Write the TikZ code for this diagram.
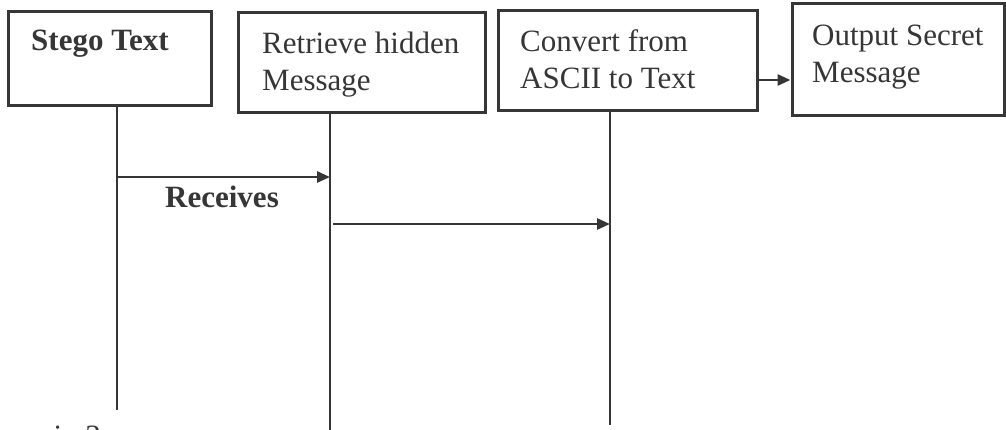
\documentclass[tikz,border=0pt]{standalone}
\usepackage{fontspec}
\setmainfont{Liberation Serif}
\usetikzlibrary{arrows.meta}
\definecolor{ink}{HTML}{363636}
\begin{document}
\begin{tikzpicture}[x=1pt,y=-1pt,
  box/.style={draw=ink, line width=3pt, rectangle, inner sep=0pt, fill=white},
  lbl/.style={anchor=base west, inner sep=0pt, text=ink, font=\fontsize{31}{37}\selectfont, align=left},
  life/.style={draw=ink, line width=2.8pt},
  msg/.style={draw=ink, line width=2.8pt, -{Triangle[length=13pt,width=11pt]}}]
\useasboundingbox (0,0) rectangle (1006,429);
\clip (0,0) rectangle (1006,429);
\fill[white] (0,0) rectangle (1006,429);

% participants
\node[box, minimum width=203pt, minimum height=94pt]  (b1) at (109.5,58) {};
\node[box, minimum width=247pt, minimum height=100pt] (b2) at (361.5,62) {};
\node[box, minimum width=259pt, minimum height=100pt] (b3) at (627.5,60) {};
\node[box, minimum width=212pt, minimum height=112pt] (b4) at (898,59) {};

% labels are placed by the baseline of their last line
\node[lbl, font=\fontsize{31}{37}\selectfont\bfseries] (t1) at (31,50) {Stego Text};
\node[lbl] (t2) at (262,90) {Retrieve hidden\\Message};
\node[lbl] (t3) at (520,88) {Convert from\\ASCII to Text};
\node[lbl] (t4) at (812,82) {Output Secret\\Message};

% lifeline ends
\coordinate (l1) at (117,410);
\coordinate (l2) at (330,432);
\coordinate (l3) at (610,425);
\draw[life] (b1.south -| l1) -- (l1);
\draw[life] (b2.south -| l2) -- (l2);
\draw[life] (b3.south -| l3) -- (l3);

% messages
\coordinate (m1) at (0,177);
\coordinate (m2) at (0,224);
\coordinate (m3) at (0,80);
\draw[msg] (l1 |- m1) -- (l2 |- m1);
\node[lbl, font=\fontsize{31}{37}\selectfont\bfseries] (rcv) at (165,207) {Receives};
\draw[msg] ([xshift=3pt]l2 |- m2) -- (l3 |- m2);
\draw[msg] (b3.east |- m3) -- (b4.west |- m3);

% caption below the figure
\node[lbl] (cap) at (-31,446) {Scenario 3};
\end{tikzpicture}
\end{document}
